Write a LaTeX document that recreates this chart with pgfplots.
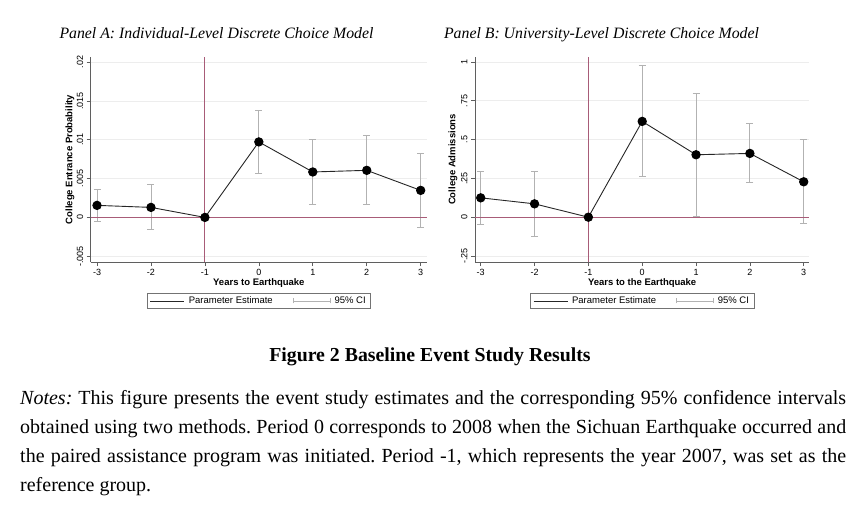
\documentclass[border=0pt]{standalone}
\usepackage{pgfplots}
\pgfplotsset{compat=1.18}
\usepackage{pgfplotstable}
\usepackage{fontspec}
\setmainfont{Liberation Serif}
\setsansfont{Liberation Sans}

\definecolor{reflc}{RGB}{168,92,120}
\definecolor{cigray}{RGB}{178,178,178}
\definecolor{axgray}{RGB}{95,95,95}

% Panel A: individual-level model
\pgfplotstableread{
x est
-3 0.00155
-2 0.00129
-1 0
0 0.00972
1 0.00585
2 0.00606
3 0.00348
}\estA
\pgfplotstableread{
x est lo hi
-3 0.00155 -0.00047 0.00361
-2 0.00129 -0.00159 0.00426
0 0.00972 0.00572 0.01372
1 0.00585 0.00163 0.0101
2 0.00606 0.00172 0.0105
3 0.00348 -0.00133 0.00826
}\ciA

% Panel B: university-level model
\pgfplotstableread{
x est
-3 0.1247
-2 0.086
-1 0
0 0.6172
1 0.4022
2 0.4108
3 0.228
}\estB
\pgfplotstableread{
x est lo hi
-3 0.1247 -0.0495 0.2968
-2 0.086 -0.1269 0.2968
0 0.6172 0.2602 0.9763
1 0.4022 0.0043 0.80
2 0.4108 0.2215 0.6022
3 0.228 -0.0409 0.4989
}\ciB

\pgfplotsset{
  stata/.style={
    scale only axis, anchor=south west,
    axis x line*=bottom, axis y line*=left,
    axis line style={axgray, line width=0.7pt},
    tick align=outside, major tick length=4pt,
    tick style={axgray, line width=0.7pt},
    scaled y ticks=false,
    xtick={-3,-2,-1,0,1,2,3}, xticklabels={-3,-2,-1,0,1,2,3},
    ymajorgrids, grid style={black!7, line width=0.6pt},
    ticklabel style={font=\sffamily\fontsize{9}{10}\selectfont},
    yticklabel style={rotate=90, anchor=south},
    label style={font=\sffamily\bfseries\fontsize{9.5}{11}\selectfont},
    legend columns=2,
    legend style={at={(0.5,-0.151)}, anchor=north, draw=black!55, line width=0.6pt,
      font=\sffamily\fontsize{9.5}{10}\selectfont, inner xsep=3pt, inner ysep=1.5pt,
      /tikz/every odd column/.append style={column sep=2pt},
      /tikz/every even column/.append style={column sep=18pt}},
  },
  cibars/.style={draw=none, forget plot,
    error bars/.cd, y dir=both, y explicit,
    error bar style={draw=cigray, line width=0.8pt},
    error mark options={draw=cigray, rotate=90, mark size=3.5pt, line width=0.8pt}},
  estline/.style={draw=black!85, line width=0.9pt, mark=*, mark size=4.2pt,
    mark options={fill=black, draw=black}, forget plot},
  refl/.style={draw=reflc, line width=1pt, forget plot},
}

\begin{document}
\frenchspacing
\begin{tikzpicture}
\path[use as bounding box] (0pt,0pt) rectangle (865pt,-508pt);

\node[font=\itshape\fontsize{15.8}{17}\selectfont, anchor=base] at (216.5pt,-39pt)
  {Panel A: Individual-Level Discrete Choice Model};
\node[font=\itshape\fontsize{15.8}{17}\selectfont, anchor=base] at (601.5pt,-39pt)
  {Panel B: University-Level Discrete Choice Model};

\begin{axis}[stata,
  at={(90.7pt,-262pt)}, width=336.3pt, height=205pt,
  xmin=-3.117, xmax=3.117, ymin=-0.00574, ymax=0.02065,
  ytick={-0.005,0,0.005,0.01,0.015,0.02},
  yticklabels={-.005,0,.005,.01,.015,.02},
  xlabel={Years to Earthquake},
  ylabel={College Entrance Probability},
  xlabel style={at={(axis description cs:0.5,-0.102)}, anchor=center},
  ylabel style={at={(axis description cs:-0.0616,0.5)}, anchor=center},
]
\addplot[cibars] table[x=x, y=est,
  y error plus expr=\thisrow{hi}-\thisrow{est},
  y error minus expr=\thisrow{est}-\thisrow{lo}] {\ciA};
\addplot[refl] coordinates {(-1,-0.00574) (-1,0.02065)};
\addplot[refl] coordinates {(-1,-0.00574) (-1,0.02065)};
\addplot[refl] coordinates {(-3.117,0) (3.117,0)};
\addplot[estline] table[x=x, y=est] {\estA};
\addlegendimage{legend image code/.code={\draw[black!85, line width=0.8pt] (0pt,0pt) -- (34pt,0pt);}}
\addlegendentry{Parameter Estimate}
\addlegendimage{legend image code/.code={\draw[cigray, line width=0.8pt] (0pt,0pt) -- (37pt,0pt) (0pt,-2.5pt) -- (0pt,2.5pt) (37pt,-2.5pt) -- (37pt,2.5pt);}}
\addlegendentry{95\% CI}
\end{axis}

\begin{axis}[stata,
  at={(475pt,-262pt)}, width=334.3pt, height=205pt,
  xmin=-3.106, xmax=3.104, ymin=-0.2887, ymax=1.032,
  ytick={-0.25,0,0.25,0.5,0.75,1},
  yticklabels={-.25,0,.25,.5,.75,1},
  xlabel={Years to the Earthquake},
  ylabel={College Admissions},
  xlabel style={at={(axis description cs:0.5,-0.102)}, anchor=center},
  ylabel style={at={(axis description cs:-0.0658,0.5)}, anchor=center},
]
\addplot[cibars] table[x=x, y=est,
  y error plus expr=\thisrow{hi}-\thisrow{est},
  y error minus expr=\thisrow{est}-\thisrow{lo}] {\ciB};
\addplot[refl] coordinates {(-1,-0.2887) (-1,1.032)};
\addplot[refl] coordinates {(-1,-0.2887) (-1,1.032)};
\addplot[refl] coordinates {(-3.106,0) (3.104,0)};
\addplot[estline] table[x=x, y=est] {\estB};
\addlegendimage{legend image code/.code={\draw[black!85, line width=0.8pt] (0pt,0pt) -- (34pt,0pt);}}
\addlegendentry{Parameter Estimate}
\addlegendimage{legend image code/.code={\draw[cigray, line width=0.8pt] (0pt,0pt) -- (37pt,0pt) (0pt,-2.5pt) -- (0pt,2.5pt) (37pt,-2.5pt) -- (37pt,2.5pt);}}
\addlegendentry{95\% CI}
\end{axis}

\node[font=\bfseries\fontsize{19.8}{22}\selectfont, anchor=base] at (430pt,-361pt)
  {Figure 2 Baseline Event Study Results};

\begin{scope}[every node/.style={anchor=base west, inner sep=0pt, font=\fontsize{20}{24}\selectfont}]
\node at (20pt,-404pt) {\makebox[826pt][s]{\textit{Notes:} This figure presents the event study estimates and the corresponding 95\% confidence intervals}};
\node at (20pt,-433pt) {\makebox[826pt][s]{obtained using two methods. Period 0 corresponds to 2008 when the Sichuan Earthquake occurred and}};
\node at (20pt,-462pt) {\makebox[826pt][s]{the paired assistance program was initiated. Period -1, which represents the year 2007, was set as the}};
\node at (20pt,-491pt) {reference group.};
\end{scope}
\end{tikzpicture}
\end{document}
